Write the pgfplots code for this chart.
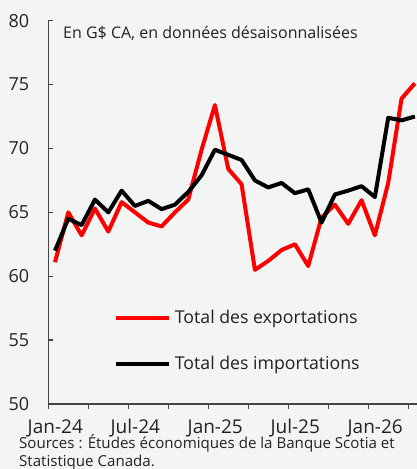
\documentclass[border=0pt]{standalone}
\usepackage{fontspec}
\setmainfont{Open Sans}
\usepackage{pgfplots}
\usepackage{pgfplotstable}
\pgfplotsset{compat=1.18}

\definecolor{bg}{HTML}{F3F4F4}
\definecolor{axgray}{HTML}{444444}
\definecolor{txt}{HTML}{222222}
\definecolor{expred}{HTML}{FF0000}

% monthly values, Jan-24 = 0
\pgfplotstableread{
m   exp    imp
0   61.1   62.0
1   65.0   64.5
2   63.2   64.0
3   65.3   66.0
4   63.5   65.0
5   65.8   66.7
6   65.0   65.5
7   64.2   65.9
8   63.9   65.25
9   65.0   65.6
10  66.0   66.6
11  69.9   67.9
12  73.4   69.9
13  68.4   69.5
14  67.2   69.1
15  60.5   67.5
16  61.2   66.95
17  62.05  67.3
18  62.5   66.5
19  60.8   66.8
20  64.6   64.2
21  65.6   66.4
22  64.1   66.7
23  65.95  67.05
24  63.2   66.2
25  67.3   72.4
26  73.9   72.2
27  75.1   72.5
}\trade

\begin{document}
\begin{tikzpicture}
\path[use as bounding box, fill=bg] (-48.3pt,-65pt) rectangle (368.7pt,404pt);
\begin{axis}[
    at={(0pt,0pt)}, anchor=south west,
    scale only axis, width=368.7pt, height=383.3pt,
    xmin=-0.5, xmax=27.16, ymin=50, ymax=80,
    axis lines=left, axis line style={-, axgray, line width=1.3pt},
    xtick={-0.5,2.5,...,26.5},
    xticklabels={Jan-24,,Jul-24,,Jan-25,,Jul-25,,Jan-26,},
    ytick={50,55,...,80},
    xtick align=outside, ytick align=inside,
    major tick length=5pt,
    tick style={axgray, line width=1.3pt},
    tick label style={text=txt},
    xticklabel style={font=\fontsize{19}{22}\selectfont, anchor=base,
        inner sep=0pt, xshift=7pt, yshift=-24pt},
    yticklabel style={font=\fontsize{18}{21}\selectfont, anchor=east,
        inner sep=0pt, xshift=-19pt},
    /pgf/number format/assume math mode=true,
    clip=false,
    legend style={draw=none, fill=none, inner sep=0pt, row sep=31pt,
        column sep=4pt, at={(0.1774,0.245)}, anchor=north west,
        nodes={inner sep=0pt, text=txt}, font=\fontsize{17.7}{20}\selectfont},
    legend cell align=left,
    legend image code/.code={\draw[#1, line width=4pt] (0pt,0pt) -- (53pt,0pt);},
]
\addplot[expred, line width=4pt, line join=round] table[x=m, y=exp] {\trade};
\addlegendentry{Total des exportations}
\addplot[black, line width=4pt, line join=round] table[x=m, y=imp] {\trade};
\addlegendentry{Total des importations}
\end{axis}
\node[anchor=base west, inner sep=0pt, text=txt, font=\fontsize{16}{19}\selectfont]
    at (14.7pt,365.5pt) {En G\$ CA, en données désaisonnalisées};
\node[anchor=base west, inner sep=0pt, text=txt, font=\fontsize{15.1}{18}\selectfont]
    at (-29.3pt,-44.3pt) {Sources : Études économiques de la Banque Scotia et};
\node[anchor=base west, inner sep=0pt, text=txt, font=\fontsize{15.1}{18}\selectfont]
    at (-29.3pt,-62.7pt) {Statistique Canada.};
\end{tikzpicture}
\end{document}
